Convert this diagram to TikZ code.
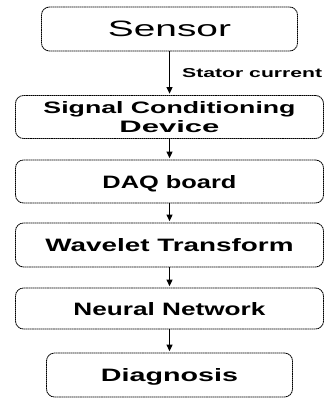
\documentclass[tikz,border=0pt]{standalone}
\usepackage{fontspec}
\setmainfont{Liberation Sans}
\usetikzlibrary{arrows.meta}
% set a label at a given width and cap height (in pt)
\newcommand{\fitlabel}[3]{\resizebox{#1pt}{#2pt}{#3}}

\begin{document}
\begin{tikzpicture}[x=1pt,y=-1pt,
  box/.style={draw=black, line width=0.8pt, dash pattern=on 1.6pt off 0.5pt,
              rounded corners=8pt, inner sep=0pt, text depth=0pt, align=center},
  flow/.style={draw=black, line width=1.3pt, solid, shorten >=1.5pt,
               -{Triangle[length=6.5pt,width=6pt]}},
  tag/.style={inner sep=0pt, anchor=base west},
]
\useasboundingbox (0,0) rectangle (325,399);

% process blocks, top to bottom
\node[box, minimum width=256pt, minimum height=44pt] (sensor) at (169.5,29)
  {\fitlabel{123}{15.5}{Sensor}};
\node[box, minimum width=308pt, minimum height=43pt,
      font=\fontsize{10pt}{18.5pt}\selectfont] (signal) at (169.5,117)
  {\fitlabel{252}{12}{\bfseries Signal Conditioning}\\\fitlabel{100}{12}{\bfseries Device}};
\node[box, minimum width=308pt, minimum height=43pt] (daq) at (169.5,181.5)
  {\fitlabel{134}{13}{\bfseries DAQ board}};
\node[box, minimum width=308pt, minimum height=44pt] (wavelet) at (169.5,245)
  {\fitlabel{248}{13}{\bfseries Wavelet Transform}};
\node[box, minimum width=308pt, minimum height=41pt] (neural) at (169.5,308.5)
  {\fitlabel{192}{13}{\bfseries Neural Network}};
\node[box, minimum width=246pt, minimum height=44pt] (diag) at (169.5,375)
  {\fitlabel{137}{13}{\bfseries Diagnosis}};

% signal flow
\draw[flow] (sensor.south) -- (signal.north);
\draw[flow] (signal.south) -- (daq.north);
\draw[flow] (daq.south) -- (wavelet.north);
\draw[flow] (wavelet.south) -- (neural.north);
\draw[flow] (neural.south) -- (diag.north);

\node[tag] (stator) at (182,77) {\fitlabel{140}{9}{\bfseries Stator current}};
\end{tikzpicture}
\end{document}
